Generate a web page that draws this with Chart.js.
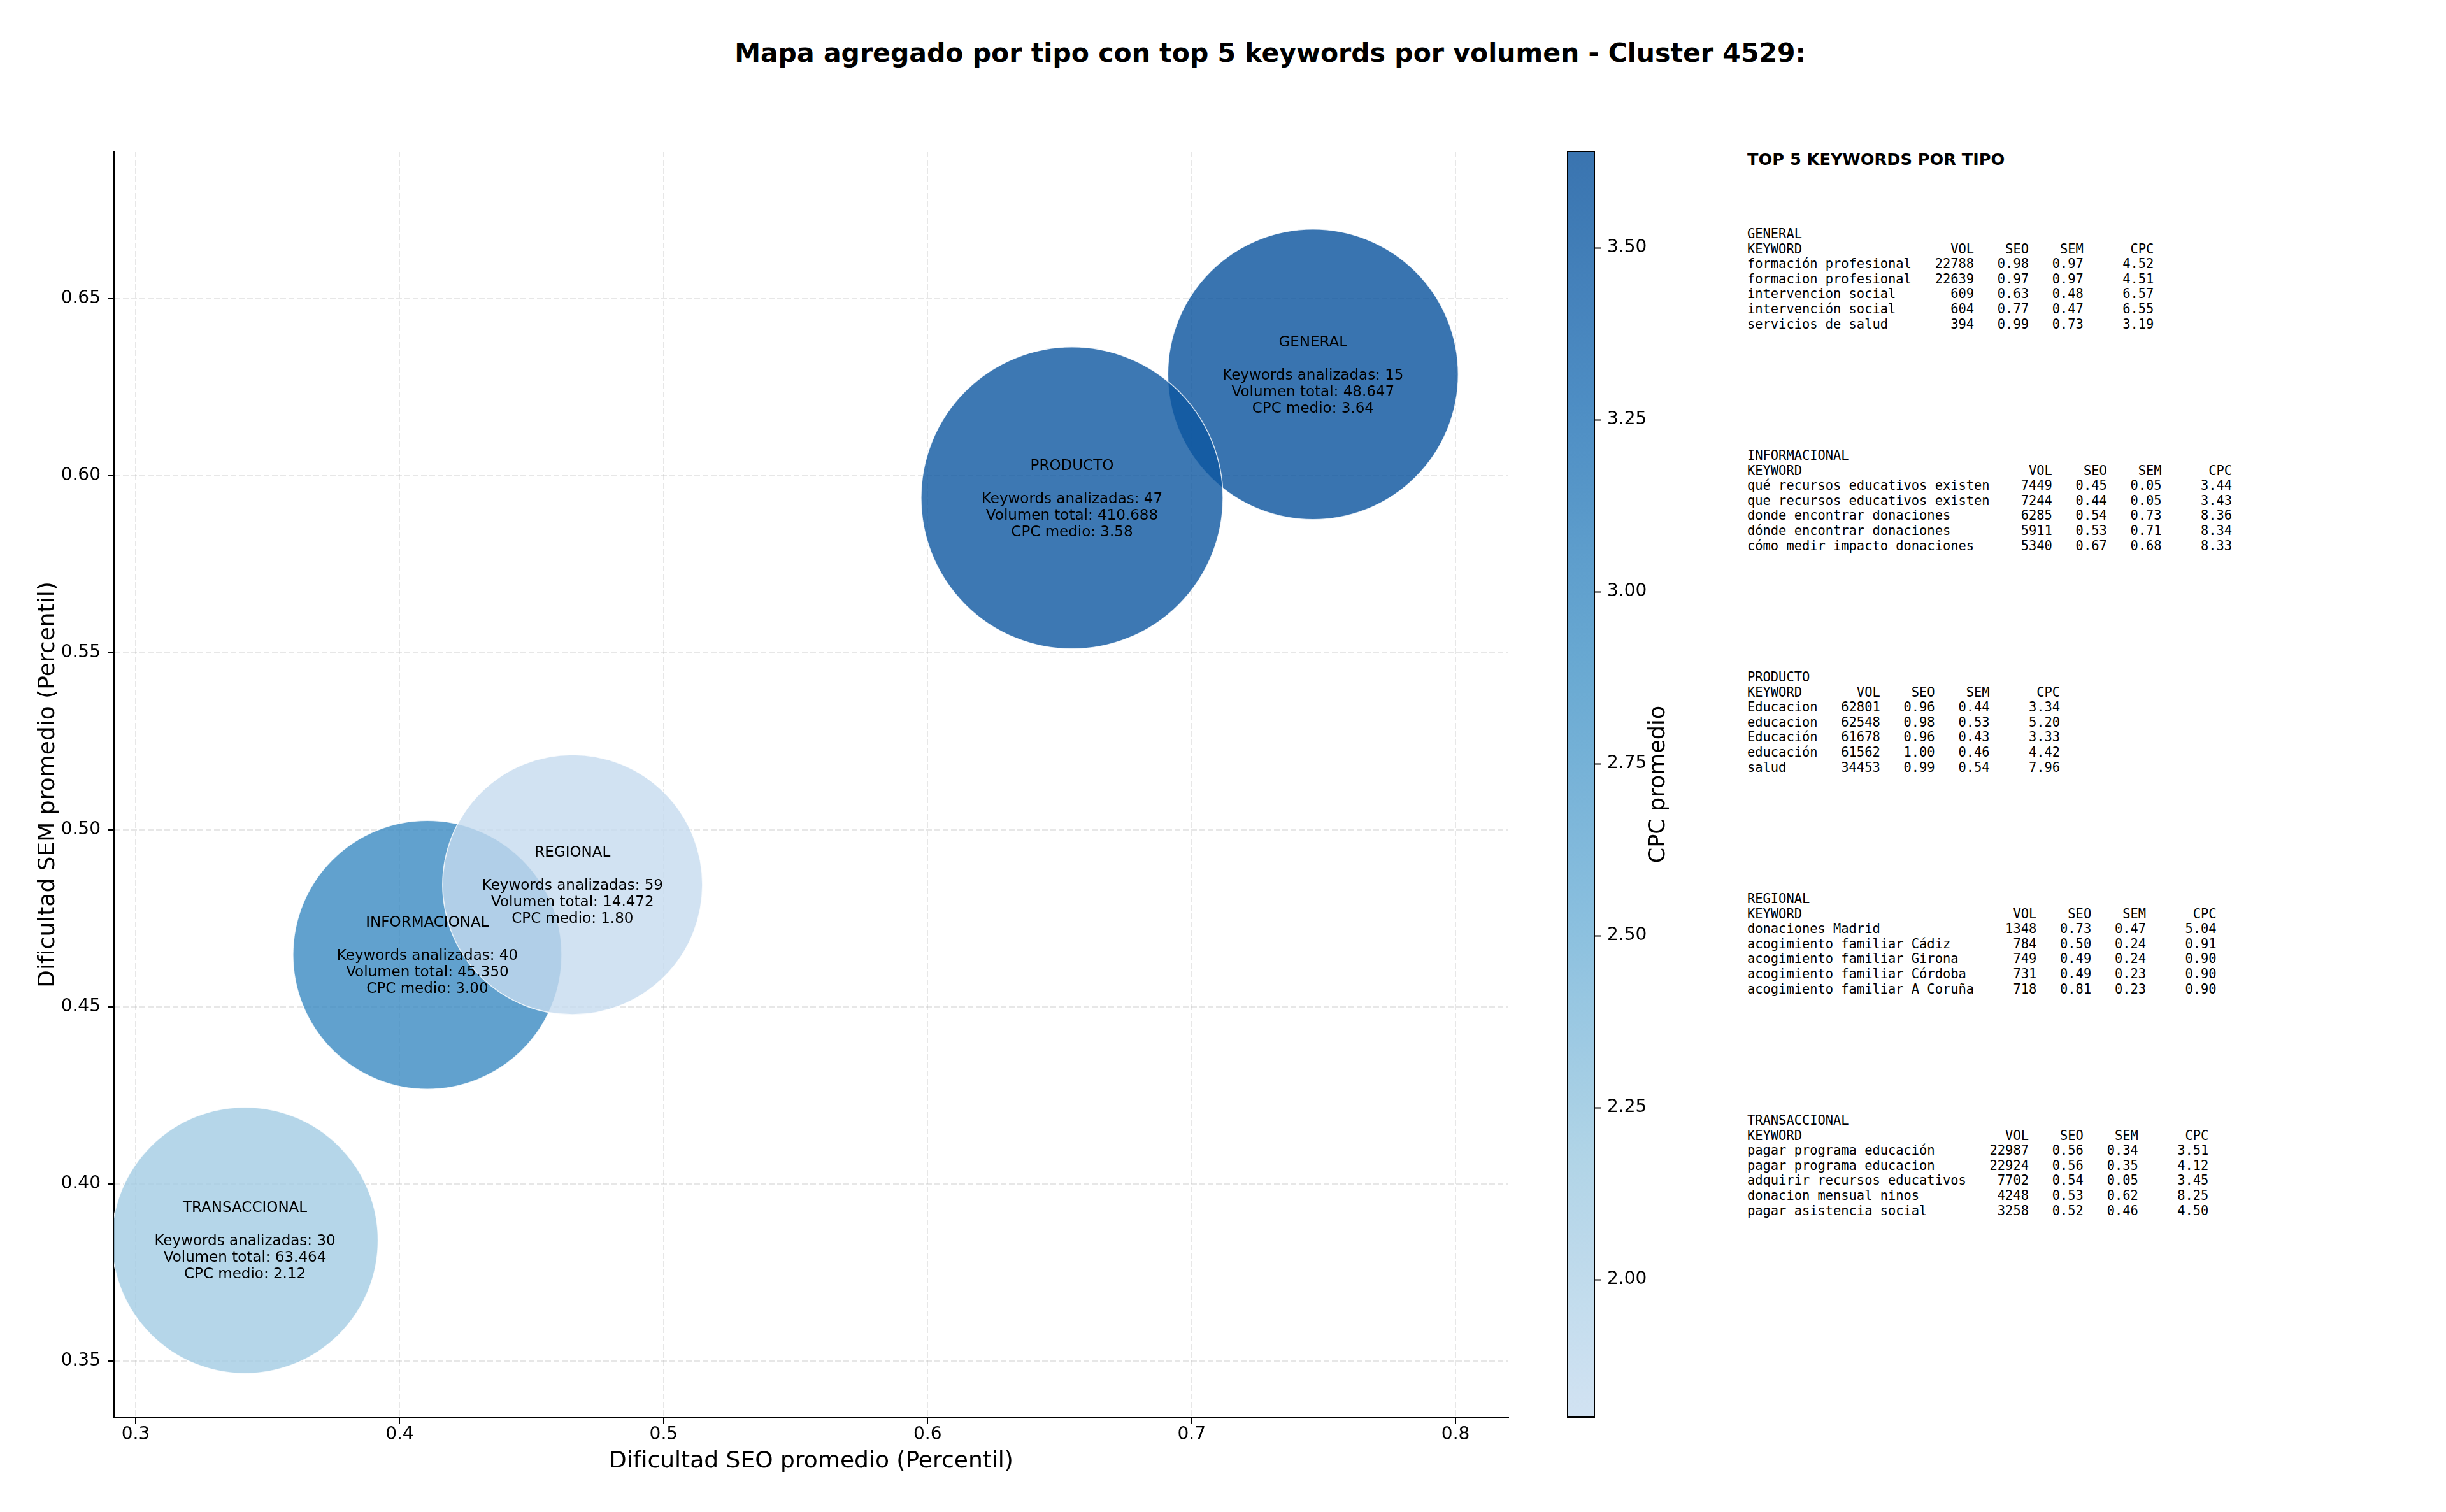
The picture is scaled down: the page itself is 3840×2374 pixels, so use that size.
<!DOCTYPE html>
<html lang="es">
<head>
<meta charset="utf-8">
<title>Mapa agregado por tipo - Cluster 4529</title>
<script src="https://cdn.jsdelivr.net/npm/chart.js@4.4.1/dist/chart.umd.min.js"></script>
<style>
    body { margin: 0; background: #fff; }
    #lienzo { position: relative; width: 3840px; height: 2374px; overflow: hidden; background: #fff; }
    #titulo {
        position: absolute; left: 0; width: 3988px; top: 59px;
        text-align: center; font: bold 41px 'DejaVu Sans', sans-serif; line-height: 48px; color: #000;
    }
    #mainChart { position: absolute; left: 0; top: 0; }
    #cbarChart { position: absolute; left: 2400px; top: 0; }
    .panel-titulo {
        position: absolute; left: 2743px; top: 235px;
        font: bold 25.6px 'DejaVu Sans', sans-serif; line-height: 30px; color: #000;
    }
    .bloque {
        position: absolute; left: 2743px; margin: 0;
        font-family: 'DejaVu Sans Mono', monospace; font-size: 20.4px; line-height: 23.6px;
        white-space: pre; color: #000;
    }
</style>
</head>
<body>
<div id="lienzo">
    <div id="titulo">Mapa agregado por tipo con top 5 keywords por volumen - Cluster 4529:</div>
    <canvas id="mainChart" width="2400" height="2374"></canvas>
    <canvas id="cbarChart" width="300" height="2374"></canvas>
    <div class="panel-titulo">TOP 5 KEYWORDS POR TIPO</div>
    <div id="panel"></div>
</div>
<script>
// Datos agregados por tipo
const tipos = ['GENERAL', 'INFORMACIONAL', 'PRODUCTO', 'REGIONAL', 'TRANSACCIONAL'];
const seoMedio = [0.746, 0.4105, 0.6547, 0.4655, 0.3414];
const semMedio = [0.6286, 0.4647, 0.5937, 0.4845, 0.3841];
const cpcMedio = [3.64, 3.00, 3.58, 1.80, 2.12];
const numKeywords = [15, 40, 47, 59, 30];
const volumenTotal = [48647, 45350, 410688, 14472, 63464];
const radioBurbuja = [228, 211, 237, 204, 209];

// Ticks
const ticksX = [0.3, 0.4, 0.5, 0.6, 0.7, 0.8];
const ticksY = [0.35, 0.40, 0.45, 0.50, 0.55, 0.60, 0.65];
const ticksCPC = [2.00, 2.25, 2.50, 2.75, 3.00, 3.25, 3.50];

// Top 5 keywords: [keyword, vol, seo, sem, cpc]
const topGeneral = [
    ['formación profesional', 22788, 0.98, 0.97, 4.52],
    ['formacion profesional', 22639, 0.97, 0.97, 4.51],
    ['intervencion social', 609, 0.63, 0.48, 6.57],
    ['intervención social', 604, 0.77, 0.47, 6.55],
    ['servicios de salud', 394, 0.99, 0.73, 3.19]
];
const topInformacional = [
    ['qué recursos educativos existen', 7449, 0.45, 0.05, 3.44],
    ['que recursos educativos existen', 7244, 0.44, 0.05, 3.43],
    ['donde encontrar donaciones', 6285, 0.54, 0.73, 8.36],
    ['dónde encontrar donaciones', 5911, 0.53, 0.71, 8.34],
    ['cómo medir impacto donaciones', 5340, 0.67, 0.68, 8.33]
];
const topProducto = [
    ['Educacion', 62801, 0.96, 0.44, 3.34],
    ['educacion', 62548, 0.98, 0.53, 5.20],
    ['Educación', 61678, 0.96, 0.43, 3.33],
    ['educación', 61562, 1.00, 0.46, 4.42],
    ['salud', 34453, 0.99, 0.54, 7.96]
];
const topRegional = [
    ['donaciones Madrid', 1348, 0.73, 0.47, 5.04],
    ['acogimiento familiar Cádiz', 784, 0.50, 0.24, 0.91],
    ['acogimiento familiar Girona', 749, 0.49, 0.24, 0.90],
    ['acogimiento familiar Córdoba', 731, 0.49, 0.23, 0.90],
    ['acogimiento familiar A Coruña', 718, 0.81, 0.23, 0.90]
];
const topTransaccional = [
    ['pagar programa educación', 22987, 0.56, 0.34, 3.51],
    ['pagar programa educacion', 22924, 0.56, 0.35, 4.12],
    ['adquirir recursos educativos', 7702, 0.54, 0.05, 3.45],
    ['donacion mensual ninos', 4248, 0.53, 0.62, 8.25],
    ['pagar asistencia social', 3258, 0.52, 0.46, 4.50]
];
const topPorTipo = [topGeneral, topInformacional, topProducto, topRegional, topTransaccional];

Chart.defaults.font.family = "'DejaVu Sans', sans-serif";
Chart.defaults.color = '#000';

// Mapa de color tipo "Blues" con transparencia
const bluesStops = [
    [247, 251, 255], [222, 235, 247], [198, 219, 239], [158, 202, 225], [107, 174, 214],
    [66, 146, 198], [33, 113, 181], [8, 81, 156], [8, 48, 107]
];
const cpcMin = Math.min(...cpcMedio);
const cpcMax = Math.max(...cpcMedio);

function colorCPC(valor, alpha) {
    const t = 0.25 + 0.625 * (valor - cpcMin) / (cpcMax - cpcMin);
    const pos = t * (bluesStops.length - 1);
    const i = Math.min(Math.floor(pos), bluesStops.length - 2);
    const f = pos - i;
    const c = bluesStops[i].map((v, k) => Math.round(v + (bluesStops[i + 1][k] - v) * f));
    return `rgba(${c[0]}, ${c[1]}, ${c[2]}, ${alpha})`;
}

function formatoMiles(n) {
    return String(n).replace(/\B(?=(\d{3})+(?!\d))/g, '.');
}

// ========== GRÁFICO PRINCIPAL ==========

const gridComun = {
    color: 'rgba(176, 176, 176, 0.3)',
    lineWidth: 2,
    tickColor: '#000',
    tickWidth: 2,
    tickLength: 10,
    tickBorderDash: []
};

const etiquetasBurbujas = {
    id: 'etiquetasBurbujas',
    afterDatasetsDraw(chart) {
        const ctx = chart.ctx;
        const meta = chart.getDatasetMeta(0);
        ctx.save();
        ctx.font = "23px 'DejaVu Sans', sans-serif";
        ctx.fillStyle = '#000';
        ctx.textAlign = 'center';
        ctx.textBaseline = 'middle';
        meta.data.forEach((punto, i) => {
            const lineas = [
                tipos[i],
                '',
                `Keywords analizadas: ${numKeywords[i]}`,
                `Volumen total: ${formatoMiles(volumenTotal[i])}`,
                `CPC medio: ${cpcMedio[i].toFixed(2)}`
            ];
            lineas.forEach((txt, j) => {
                ctx.fillText(txt, punto.x, punto.y + (j - 2) * 26 + 2);
            });
        });
        ctx.restore();
    }
};

new Chart(document.getElementById('mainChart'), {
    type: 'bubble',
    data: {
        datasets: [{
            label: 'Tipos',
            data: tipos.map((t, i) => ({ x: seoMedio[i], y: semMedio[i], r: radioBurbuja[i] })),
            backgroundColor: cpcMedio.map(c => colorCPC(c, 0.8)),
            borderColor: 'rgba(255, 255, 255, 0.8)',
            borderWidth: 1.5
        }]
    },
    options: {
        responsive: false,
        animation: false,
        devicePixelRatio: 1,
        layout: { autoPadding: false, padding: { left: 0, top: 238, right: 32, bottom: 58 } },
        plugins: {
            legend: { display: false },
            tooltip: { enabled: false }
        },
        scales: {
            x: {
                type: 'linear',
                min: 0.2918,
                max: 0.8200,
                afterBuildTicks: scale => { scale.ticks = ticksX.map(v => ({ value: v })); },
                afterFit: scale => { scale.height = 90; },
                ticks: {
                    font: { size: 28 },
                    padding: 0,
                    maxRotation: 0,
                    callback: v => v.toFixed(1)
                },
                grid: gridComun,
                border: { display: true, color: '#000', width: 2, dash: [9, 4] },
                title: {
                    display: true,
                    text: 'Dificultad SEO promedio (Percentil)',
                    font: { size: 36 },
                    padding: { top: 0, bottom: 0 }
                }
            },
            y: {
                type: 'linear',
                min: 0.3340,
                max: 0.6915,
                afterBuildTicks: scale => { scale.ticks = ticksY.map(v => ({ value: v })); },
                afterFit: scale => { scale.width = 179; },
                ticks: {
                    font: { size: 28 },
                    padding: 11,
                    callback: v => v.toFixed(2)
                },
                grid: gridComun,
                border: { display: true, color: '#000', width: 2, dash: [9, 4] },
                title: {
                    display: true,
                    text: 'Dificultad SEM promedio (Percentil)',
                    font: { size: 36 },
                    padding: { top: 54, bottom: 0 }
                }
            }
        }
    },
    plugins: [etiquetasBurbujas]
});

// ========== BARRA DE COLOR (CPC) ==========

const marcoBarra = {
    id: 'marcoBarra',
    afterDraw(chart) {
        const { ctx, chartArea } = chart;
        ctx.save();
        ctx.strokeStyle = '#000';
        ctx.lineWidth = 2;
        ctx.strokeRect(chartArea.left, chartArea.top, chartArea.right - chartArea.left, chartArea.bottom - chartArea.top);
        // Título de la barra de color
        ctx.translate(204, (chartArea.top + chartArea.bottom) / 2);
        ctx.rotate(-Math.PI / 2);
        ctx.font = "35px 'DejaVu Sans', sans-serif";
        ctx.fillStyle = '#000';
        ctx.textAlign = 'center';
        ctx.textBaseline = 'middle';
        ctx.fillText('CPC promedio', 0, 0);
        ctx.restore();
    }
};

new Chart(document.getElementById('cbarChart'), {
    type: 'bar',
    data: {
        labels: ['CPC'],
        datasets: [{
            data: [[cpcMin, cpcMax]],
            backgroundColor: function(context) {
                const chart = context.chart;
                const yScale = chart.scales.y;
                if (!chart.chartArea || !yScale) return colorCPC(cpcMax, 0.8);
                const y0 = yScale.getPixelForValue(cpcMin);
                const y1 = yScale.getPixelForValue(cpcMax);
                const grad = chart.ctx.createLinearGradient(0, y0, 0, y1);
                for (let k = 0; k <= 40; k++) {
                    const v = cpcMin + (cpcMax - cpcMin) * k / 40;
                    grad.addColorStop(k / 40, colorCPC(v, 0.8));
                }
                return grad;
            },
            borderWidth: 0,
            barPercentage: 1,
            categoryPercentage: 1
        }]
    },
    options: {
        responsive: false,
        animation: false,
        devicePixelRatio: 1,
        layout: { autoPadding: false, padding: { left: 61, top: 238, right: 0, bottom: 149 } },
        plugins: {
            legend: { display: false },
            tooltip: { enabled: false }
        },
        scales: {
            x: { display: false },
            y: {
                position: 'right',
                min: cpcMin,
                max: cpcMax,
                afterBuildTicks: scale => { scale.ticks = ticksCPC.map(v => ({ value: v })); },
                afterFit: scale => { scale.width = 197; },
                ticks: {
                    font: { size: 28 },
                    padding: 10,
                    callback: v => v.toFixed(2)
                },
                grid: {
                    drawOnChartArea: false,
                    tickColor: '#000',
                    tickWidth: 2,
                    tickLength: 10
                },
                border: { display: false }
            }
        }
    },
    plugins: [marcoBarra]
});

// ========== PANEL DE TEXTO ==========

const panel = document.getElementById('panel');
topPorTipo.forEach((filas, i) => {
    const ancho = Math.max(...filas.map(f => f[0].length));
    const lineas = [tipos[i]];
    lineas.push('KEYWORD'.padEnd(ancho) + '  ' + 'VOL'.padStart(6) + 'SEO'.padStart(7) +
        'SEM'.padStart(7) + 'CPC'.padStart(9));
    filas.forEach(f => {
        lineas.push(f[0].padEnd(ancho) + '  ' + String(f[1]).padStart(6) + f[2].toFixed(2).padStart(7) +
            f[3].toFixed(2).padStart(7) + f[4].toFixed(2).padStart(9));
    });
    const pre = document.createElement('pre');
    pre.className = 'bloque';
    pre.style.top = (356 + i * 348) + 'px';
    pre.textContent = lineas.join('\n');
    panel.appendChild(pre);
});
</script>
</body>
</html>
